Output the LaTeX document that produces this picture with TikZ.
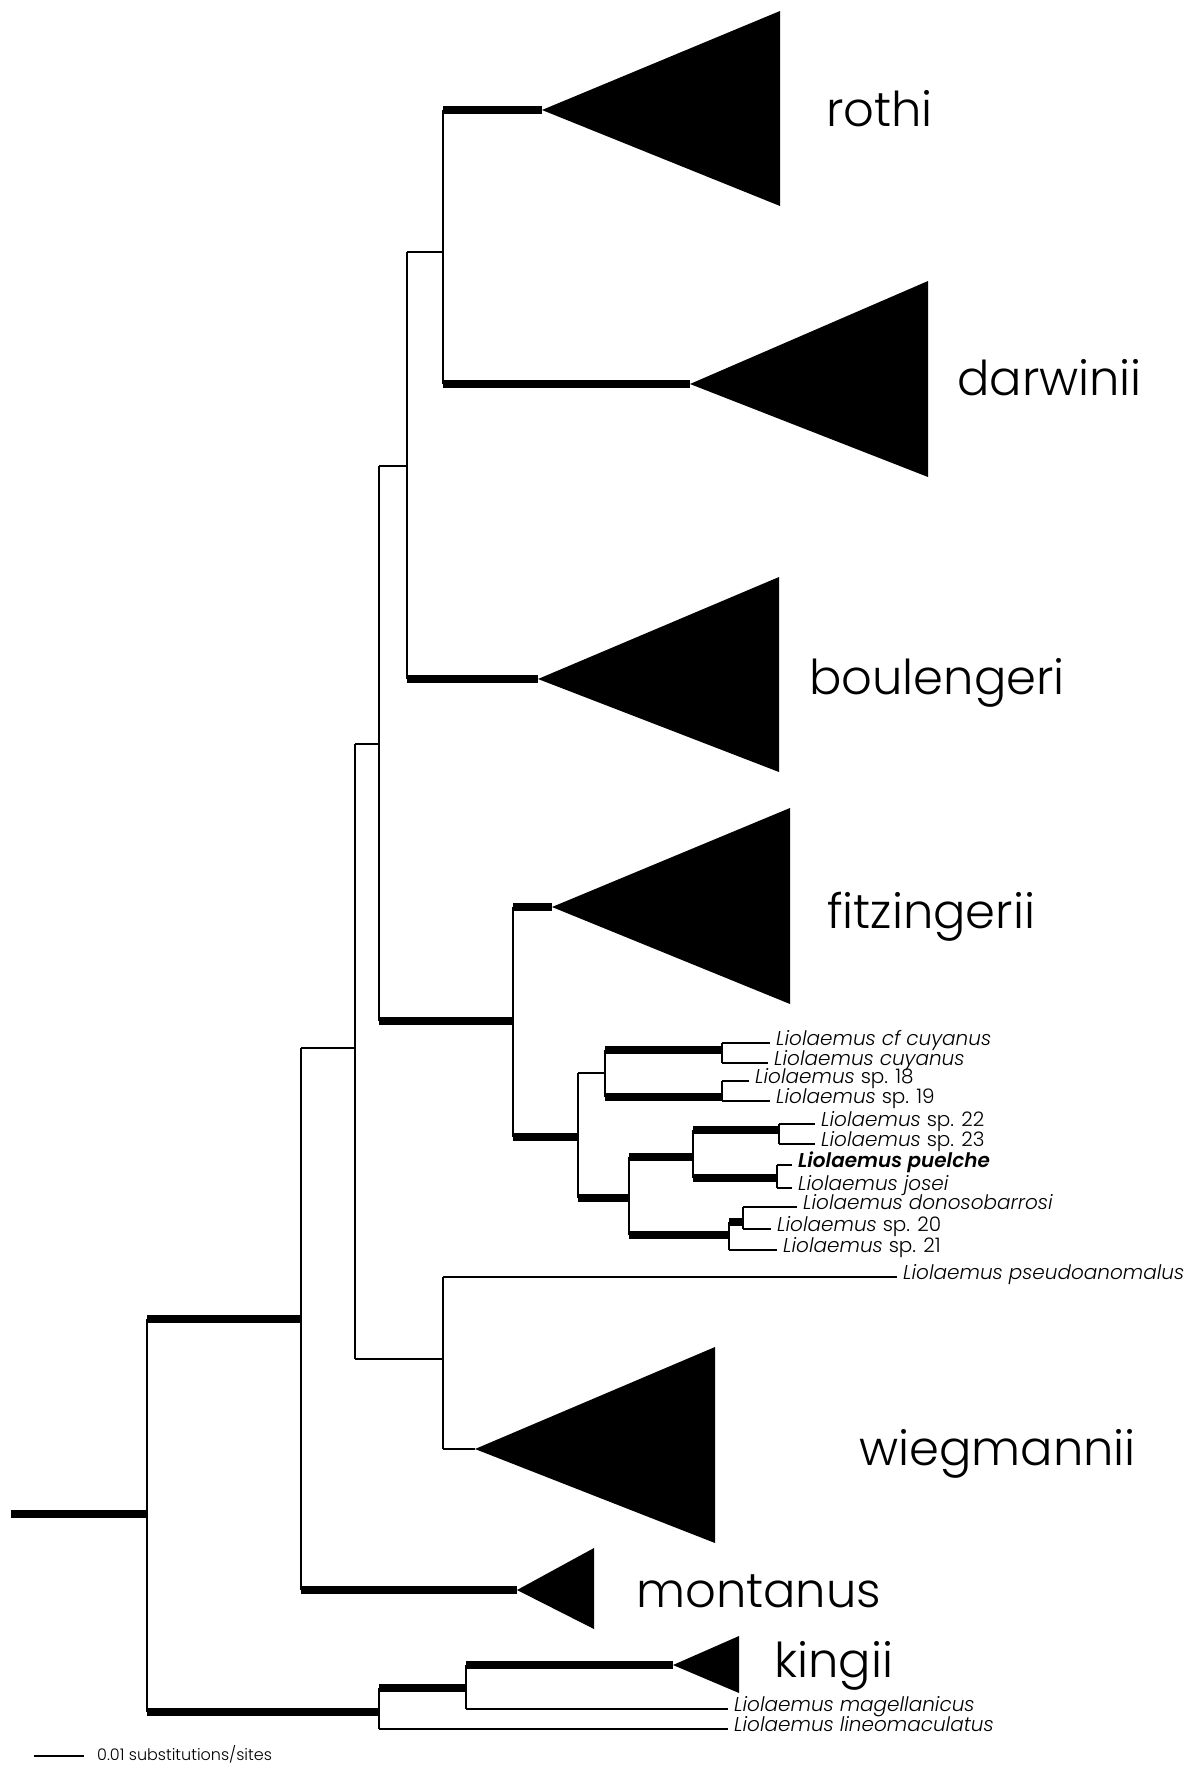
\documentclass[tikz,border=0pt]{standalone}
\usepackage{fontspec}
\setmainfont{Poppins}[UprightFont=* Light, ItalicFont=* Light Italic, BoldFont=* SemiBold, BoldItalicFont=* SemiBold Italic]
\usepackage{tikz}
\usetikzlibrary{positioning}

\begin{document}
\begin{tikzpicture}
  [x=1pt,y=-1pt]
  \tikzstyle{twig}=[line width=2.2pt]
  \tikzstyle{bough}=[line width=8.8pt]
  \tikzstyle{clade}=[fill=black]
  \tikzstyle{group}=[anchor=base west,inner sep=0pt,font=\fontsize{48}{50}\selectfont]
  \tikzstyle{taxon}=[anchor=base west,inner sep=0pt,xshift=6pt,yshift=-2pt,font=\fontsize{20}{21}\selectfont\itshape]

  \useasboundingbox (0,0) rectangle (1195,1767);

  % inner nodes of the tree
  \coordinate (root) at (11,1514);
  \coordinate (n1) at (147,1514);
  \coordinate (n2) at (301,1319);
  \coordinate (n3) at (355,1048);
  \coordinate (n4) at (379,744);
  \coordinate (n5) at (407,466);
  \coordinate (n6) at (443,252);
  \coordinate (n8) at (513,1021);
  \coordinate (n9) at (578,1137);
  \coordinate (n10) at (605,1073);
  \coordinate (n10a) at (722,1050);
  \coordinate (n10b) at (722,1097);
  \coordinate (n12) at (629,1198);
  \coordinate (n13) at (693,1157);
  \coordinate (n13a) at (779,1130);
  \coordinate (n13b) at (777,1178);
  \coordinate (n14) at (729,1235);
  \coordinate (n14a) at (743,1222);
  \coordinate (n15) at (443,1359);
  \coordinate (n20) at (379,1712);
  \coordinate (n21) at (466,1688);

  % collapsed clades
  \coordinate (rothi) at (542,110);
  \coordinate (darwinii) at (690,384);
  \coordinate (boulengeri) at (538,679);
  \coordinate (fitzingerii) at (552,907);
  \coordinate (wiegmannii) at (475,1449);
  \coordinate (montanus) at (517,1590);
  \coordinate (kingii) at (673,1665);

  % tips
  \coordinate (cfcuy) at (770,1043);
  \coordinate (cuy) at (768,1063);
  \coordinate (sp18) at (749,1081);
  \coordinate (sp19) at (770,1101);
  \coordinate (sp22) at (815,1124);
  \coordinate (sp23) at (815,1144);
  \coordinate (puelche) at (792,1165);
  \coordinate (josei) at (792,1188);
  \coordinate (donoso) at (797,1207);
  \coordinate (sp20) at (771,1229);
  \coordinate (sp21) at (777,1250);
  \coordinate (pseudo) at (897,1277);
  \coordinate (magel) at (728,1709);
  \coordinate (lineo) at (728,1729);

  % triangles
  \fill[clade] (rothi) -- ++(238,-99) -- ++(0,195) -- cycle;
  \fill[clade] (darwinii) -- ++(238,-103) -- ++(0,196) -- cycle;
  \fill[clade] (boulengeri) -- ++(241,-102) -- ++(0,195) -- cycle;
  \fill[clade] (fitzingerii) -- ++(238,-99) -- ++(0,196) -- cycle;
  \fill[clade] (wiegmannii) -- ++(240,-102) -- ++(0,196) -- cycle;
  \fill[clade] (montanus) -- ++(77,-42) -- ++(0,81) -- cycle;
  \fill[clade] (kingii) -- ++(66,-29) -- ++(0,57) -- cycle;

  % vertical bars
  \foreach \p/\a/\b in {n1/n2/n20, n2/n3/montanus, n3/n4/n15, n4/n5/n8,
      n5/n6/boulengeri, n6/rothi/darwinii, n8/fitzingerii/n9, n9/n10/n12,
      n10/n10a/n10b, n10a/cfcuy/cuy, n10b/sp18/sp19, n12/n13/n14,
      n13/n13a/n13b, n13a/sp22/sp23, n13b/puelche/josei, n14/n14a/sp21,
      n14a/donoso/sp20, n15/pseudo/wiegmannii, n20/n21/lineo, n21/kingii/magel}
    \draw[twig] (\p |- \a) -- (\p |- \b);

  % thick branches
  \draw[bough] (root) -- (n1);
  \foreach \p/\c in {n1/n2, n1/n20, n2/montanus, n4/n8, n5/boulengeri,
      n6/rothi, n6/darwinii, n8/fitzingerii, n8/n9, n9/n12, n10/n10a,
      n10/n10b, n12/n13, n12/n14, n13/n13a, n13/n13b, n14/n14a,
      n20/n21, n21/kingii}
    \draw[bough] (\p |- \c) -- (\c);

  % thin branches
  \foreach \p/\c in {n2/n3, n3/n4, n3/n15, n4/n5, n5/n6, n9/n10,
      n10a/cfcuy, n10a/cuy, n10b/sp18, n10b/sp19, n13a/sp22, n13a/sp23,
      n13b/puelche, n13b/josei, n14/sp21, n14a/donoso, n14a/sp20,
      n15/pseudo, n15/wiegmannii, n20/lineo, n21/magel}
    \draw[twig] (\p |- \c) -- (\c);

  % group names
  \node[group] (l-rothi) at (826,126) {rothi};
  \node[group] (l-darwinii) at (957,395) {darwinii};
  \node[group] (l-boulengeri) at (809,694) {boulengeri};
  \node[group] (l-fitzingerii) at (827,928) {fitzingerii};
  \node[group] (l-wiegmannii) at (859,1465) {wiegmannii};
  \node[group] (l-montanus) at (636,1607) {montanus};
  \node[group] (l-kingii) at (774,1677) {kingii};

  % tip names
  \node[taxon] (t-cfcuy) at (cfcuy) {Liolaemus cf cuyanus};
  \node[taxon] (t-cuy) at (cuy) {Liolaemus cuyanus};
  \node[taxon] (t-sp18) at (sp18) {Liolaemus \textup{sp. 18}};
  \node[taxon] (t-sp19) at (sp19) {Liolaemus \textup{sp. 19}};
  \node[taxon] (t-sp22) at (sp22) {Liolaemus \textup{sp. 22}};
  \node[taxon] (t-sp23) at (sp23) {Liolaemus \textup{sp. 23}};
  \node[taxon] (t-puelche) at (puelche) {\bfseries Liolaemus puelche};
  \node[taxon] (t-josei) at (josei) {Liolaemus josei};
  \node[taxon] (t-donoso) at (donoso) {Liolaemus donosobarrosi};
  \node[taxon] (t-sp20) at (sp20) {Liolaemus \textup{sp. 20}};
  \node[taxon] (t-sp21) at (sp21) {Liolaemus \textup{sp. 21}};
  \node[taxon] (t-pseudo) at (pseudo) {Liolaemus pseudoanomalus};
  \node[taxon] (t-magel) at (magel) {Liolaemus magellanicus};
  \node[taxon] (t-lineo) at (lineo) {Liolaemus lineomaculatus};

  % scale bar
  \coordinate (sb1) at (34,1756);
  \coordinate (sb2) at (84,1756);
  \draw[twig] (sb1) -- (sb2);
  \node[anchor=base west,inner sep=0pt,font=\fontsize{16}{17}\selectfont] (sblabel) at (97,1760) {0.01 substitutions/sites};
\end{tikzpicture}
\end{document}
